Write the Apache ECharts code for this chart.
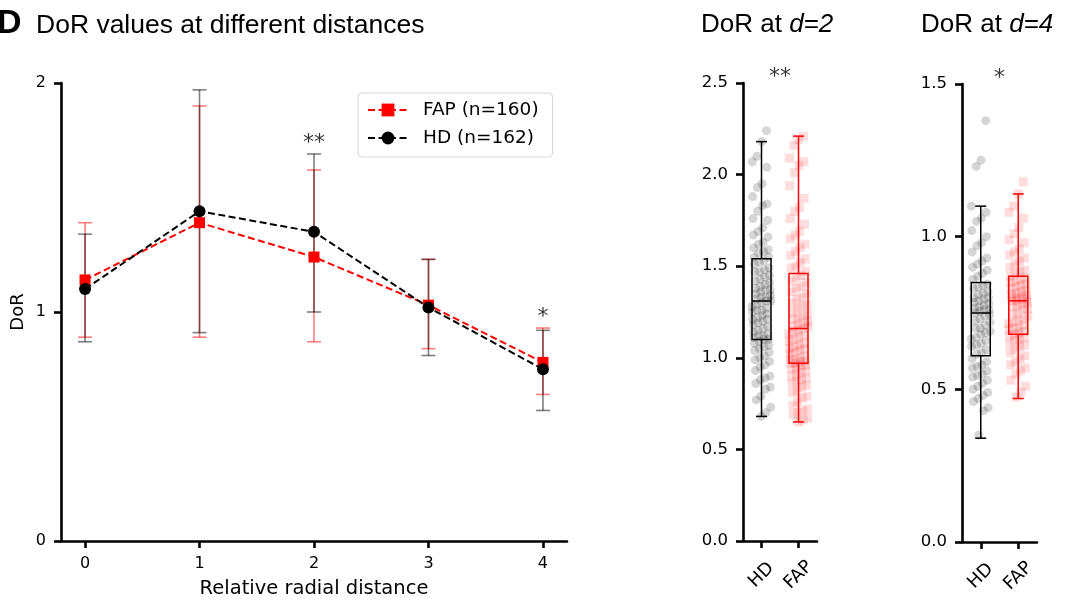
<!DOCTYPE html>
<html>
<head>
<meta charset="utf-8">
<script src="https://cdn.jsdelivr.net/npm/echarts@6/dist/echarts.min.js"></script>
<style>
  html, body { margin: 0; padding: 0; background: #fff; }
  #chart { width: 1067px; height: 601px; }
</style>
</head>
<body>
<div id="chart"></div>
<script>
// ---- mean DoR with spread, per relative radial distance ----
const distances = [0, 1, 2, 3, 4];
const distanceTicks = [0, 1, 2, 3, 4];
const fapMean = [1.14, 1.39, 1.24, 1.03, 0.78];
const fapLow  = [0.89, 0.89, 0.87, 0.84, 0.64];
const fapHigh = [1.39, 1.90, 1.62, 1.23, 0.93];
const hdMean  = [1.10, 1.44, 1.35, 1.02, 0.75];
const hdLow   = [0.87, 0.91, 1.00, 0.81, 0.57];
const hdHigh  = [1.34, 1.97, 1.69, 1.23, 0.92];
const fapName = 'FAP (n=160)';
const hdName = 'HD (n=162)';

// ---- box plot groups ----
const groups = ['HD', 'FAP'];
// [lower whisker, Q1, median, Q3, upper whisker]
const hd2Box  = [0.68, 1.10, 1.31, 1.54, 2.18];
const fap2Box = [0.65, 0.97, 1.16, 1.46, 2.21];
const hd4Box  = [0.34, 0.61, 0.75, 0.85, 1.10];
const fap4Box = [0.47, 0.68, 0.79, 0.87, 1.14];

// individual cell values at d=2
const hd2Points = [2.24, 2.18, 2.10, 2.07, 2.04, 1.95, 1.93, 1.88, 1.84, 1.83, 1.80, 1.76, 1.75, 1.71, 1.69, 1.67, 1.66, 1.63, 1.62, 1.60, 1.59, 1.58, 1.57, 1.55, 1.55,
  1.53, 1.52, 1.51, 1.49, 1.48, 1.47, 1.47, 1.45, 1.44, 1.43, 1.42, 1.41, 1.40, 1.39, 1.38, 1.37, 1.37, 1.36, 1.35, 1.34, 1.33, 1.33, 1.32, 1.31, 1.31,
  1.30, 1.29, 1.28, 1.27, 1.26, 1.26, 1.25, 1.24, 1.23, 1.22, 1.21, 1.21, 1.20, 1.19, 1.18, 1.17, 1.16, 1.15, 1.14, 1.13, 1.12, 1.12, 1.11, 1.10, 1.10,
  1.09, 1.08, 1.07, 1.06, 1.05, 1.04, 1.03, 1.01, 1.00, 0.99, 0.98, 0.96, 0.95, 0.93, 0.90, 0.89, 0.88, 0.86, 0.84, 0.83, 0.79, 0.77, 0.73, 0.70, 0.68];
const fap2Points = [2.21, 2.19, 2.16, 2.09, 2.07, 2.05, 2.01, 1.94, 1.87, 1.82, 1.80, 1.76, 1.73, 1.69, 1.67, 1.65, 1.62, 1.60, 1.58, 1.56, 1.54, 1.52, 1.50, 1.49, 1.47,
  1.45, 1.44, 1.42, 1.41, 1.39, 1.38, 1.36, 1.35, 1.33, 1.32, 1.30, 1.29, 1.28, 1.27, 1.25, 1.24, 1.23, 1.22, 1.21, 1.20, 1.19, 1.18, 1.17, 1.17, 1.16,
  1.15, 1.14, 1.13, 1.12, 1.11, 1.10, 1.09, 1.08, 1.07, 1.06, 1.05, 1.05, 1.04, 1.03, 1.02, 1.01, 1.00, 0.99, 0.99, 0.98, 0.98, 0.97, 0.97, 0.96, 0.96,
  0.95, 0.94, 0.93, 0.92, 0.91, 0.90, 0.89, 0.88, 0.87, 0.86, 0.85, 0.84, 0.82, 0.81, 0.79, 0.78, 0.76, 0.74, 0.72, 0.71, 0.70, 0.69, 0.67, 0.66, 0.65];

// individual cell values at d=4
const hd4Points = [1.38, 1.25, 1.23, 1.10, 1.08, 1.06, 1.05, 1.02, 1.00, 0.98, 0.97, 0.95, 0.93, 0.92, 0.91, 0.90, 0.89, 0.88, 0.87, 0.86,
  0.845, 0.84, 0.835, 0.83, 0.82, 0.815, 0.81, 0.80, 0.80, 0.795, 0.79, 0.785, 0.78, 0.775, 0.77, 0.765, 0.76, 0.76, 0.755, 0.75,
  0.745, 0.74, 0.73, 0.725, 0.72, 0.71, 0.70, 0.70, 0.69, 0.685, 0.68, 0.67, 0.665, 0.66, 0.65, 0.645, 0.64, 0.63, 0.62, 0.615,
  0.60, 0.59, 0.58, 0.575, 0.57, 0.56, 0.55, 0.545, 0.54, 0.53, 0.52, 0.51, 0.50, 0.49, 0.48, 0.47, 0.46, 0.44, 0.43, 0.35];
const fap4Points = [1.18, 1.14, 1.10, 1.08, 1.06, 1.03, 1.01, 0.99, 0.98, 0.96, 0.95, 0.94, 0.93, 0.92, 0.91, 0.90, 0.89, 0.885, 0.88, 0.87,
  0.865, 0.86, 0.855, 0.85, 0.845, 0.84, 0.835, 0.83, 0.825, 0.82, 0.815, 0.81, 0.81, 0.805, 0.80, 0.80, 0.795, 0.795, 0.79, 0.79,
  0.785, 0.78, 0.775, 0.77, 0.765, 0.76, 0.75, 0.745, 0.74, 0.73, 0.725, 0.72, 0.715, 0.71, 0.70, 0.70, 0.695, 0.69, 0.685, 0.68,
  0.675, 0.67, 0.665, 0.66, 0.65, 0.645, 0.64, 0.63, 0.62, 0.61, 0.60, 0.59, 0.58, 0.57, 0.56, 0.55, 0.53, 0.51, 0.49, 0.475];

// significance marks
const sigMain = [{ x: 2, y: 1.735, text: '**' }, { x: 4, y: 0.975, text: '*' }];
const sigD2 = { x: 0.5, y: 2.53, text: '**' };
const sigD4 = { x: 0.5, y: 1.52, text: '*' };

const SANS = 'DejaVu Sans';
const TITLE_FONT = 'Liberation Sans';
const RED = '#ff0000';
const BLACK = '#000000';

// spread points horizontally around the group centre
function jitter(i) {
  return (((i + 1) * 0.7548776662) % 1 - 0.5) * 0.52;
}

function errorBarSeries(low, high, color, z) {
  return {
    type: 'custom',
    xAxisIndex: 0, yAxisIndex: 0,
    z: z, silent: true,
    data: distances.map((d, i) => [d, low[i], high[i]]),
    encode: { x: 0, y: [1, 2] },
    renderItem: function (params, api) {
      const x = api.value(0);
      const top = api.coord([x, api.value(2)]);
      const bot = api.coord([x, api.value(1)]);
      const hw = 7;
      const style = { stroke: color, lineWidth: 1.6, fill: null };
      return {
        type: 'group',
        children: [
          { type: 'line', shape: { x1: top[0], y1: top[1], x2: bot[0], y2: bot[1] }, style: style },
          { type: 'line', shape: { x1: top[0] - hw, y1: top[1], x2: top[0] + hw, y2: top[1] }, style: style },
          { type: 'line', shape: { x1: bot[0] - hw, y1: bot[1], x2: bot[0] + hw, y2: bot[1] }, style: style }
        ]
      };
    }
  };
}

function boxSeries(axisIdx, boxes) {
  const colors = [BLACK, RED];
  return {
    type: 'custom',
    xAxisIndex: axisIdx, yAxisIndex: axisIdx,
    z: 5, silent: true,
    data: boxes.map((b, g) => [g].concat(b)),
    encode: { x: 0, y: [1, 2, 3, 4, 5] },
    renderItem: function (params, api) {
      const g = api.value(0);
      const c = colors[params.dataIndex];
      const pMin = api.coord([g, api.value(1)]);
      const pQ1 = api.coord([g, api.value(2)]);
      const pMed = api.coord([g, api.value(3)]);
      const pQ3 = api.coord([g, api.value(4)]);
      const pMax = api.coord([g, api.value(5)]);
      const hw = 9.5, cw = 5.5, cx = pMed[0];
      const style = { stroke: c, lineWidth: 1.5, fill: null };
      return {
        type: 'group',
        children: [
          { type: 'line', shape: { x1: cx, y1: pMax[1], x2: cx, y2: pQ3[1] }, style: style },
          { type: 'line', shape: { x1: cx, y1: pQ1[1], x2: cx, y2: pMin[1] }, style: style },
          { type: 'line', shape: { x1: cx - cw, y1: pMax[1], x2: cx + cw, y2: pMax[1] }, style: style },
          { type: 'line', shape: { x1: cx - cw, y1: pMin[1], x2: cx + cw, y2: pMin[1] }, style: style },
          { type: 'rect', shape: { x: cx - hw, y: pQ3[1], width: 2 * hw, height: pQ1[1] - pQ3[1] }, style: style },
          { type: 'line', shape: { x1: cx - hw, y1: pMed[1], x2: cx + hw, y2: pMed[1] }, style: style }
        ]
      };
    }
  };
}

function pointSeries(axisIdx, g, values, symbol, color) {
  return {
    type: 'scatter',
    xAxisIndex: axisIdx, yAxisIndex: axisIdx,
    z: 2, silent: true, clip: false,
    symbol: symbol, symbolSize: 9,
    itemStyle: { color: color, borderWidth: 0 },
    data: values.map((v, i) => [g + jitter(i), v])
  };
}

function sigSeries(axisIdx, marks) {
  return {
    type: 'scatter',
    xAxisIndex: axisIdx, yAxisIndex: axisIdx,
    z: 6, silent: true, clip: false,
    symbolSize: 0,
    data: marks.map(m => ({ value: [m.x, m.y], label: { formatter: m.text } })),
    label: { show: true, position: 'inside', color: '#000', fontFamily: SANS, fontSize: 22 }
  };
}

const axisLine = { show: true, onZero: false, lineStyle: { color: '#000', width: 2.6 } };
const axisTick = { show: true, inside: false, length: 7, lineStyle: { color: '#000', width: 2.6 } };
const tickLabel = { color: '#000', fontFamily: SANS, fontSize: 16 };

function boxXAxis(grid) {
  return {
    type: 'value', gridIndex: grid, min: -0.5, max: 1.5,
    axisLine: axisLine,
    axisTick: Object.assign({ customValues: [0, 1] }, axisTick),
    axisLabel: Object.assign({}, tickLabel, {
      customValues: [0, 1], rotate: 45, fontSize: 18, margin: 34,
      align: 'center', verticalAlign: 'middle',
      formatter: v => groups[Math.round(v)]
    }),
    splitLine: { show: false }
  };
}

function boxYAxis(grid, max) {
  return {
    type: 'value', gridIndex: grid, min: 0, max: max, interval: 0.5,
    axisLine: axisLine, axisTick: axisTick,
    axisLabel: Object.assign({}, tickLabel, { fontSize: 16.5, margin: 15, formatter: v => v.toFixed(1) }),
    splitLine: { show: false }
  };
}

const titleRich = {
  n: { fontFamily: TITLE_FONT, fontSize: 26, fontWeight: 'normal', color: '#000' },
  i: { fontFamily: TITLE_FONT, fontSize: 26, fontWeight: 'normal', fontStyle: 'italic', color: '#000' }
};

const chart = echarts.init(document.getElementById('chart'), null, { renderer: 'canvas' });

chart.setOption({
  animation: false,
  backgroundColor: '#fff',
  title: [
    { text: 'D', left: -3, top: 7, padding: 0, textStyle: { fontFamily: TITLE_FONT, fontSize: 34, fontWeight: 'bold', color: '#000' } },
    { text: 'DoR values at different distances', left: 36, top: 12, padding: 0, textStyle: { fontFamily: TITLE_FONT, fontSize: 26.5, fontWeight: 'normal', color: '#000' } },
    { text: '{n|DoR at }{i|d=2}', left: 701, top: 12, padding: 0, textStyle: { fontWeight: 'normal', rich: titleRich } },
    { text: '{n|DoR at }{i|d=4}', left: 921, top: 12, padding: 0, textStyle: { fontWeight: 'normal', rich: titleRich } }
  ],
  legend: {
    data: [fapName, hdName],
    orient: 'vertical',
    left: 358, top: 93,
    padding: [7, 14, 9, 9],
    itemGap: 8,
    itemWidth: 40, itemHeight: 16,
    backgroundColor: '#fff',
    borderColor: '#d6d6d6', borderWidth: 1, borderRadius: 4,
    textStyle: { fontFamily: SANS, fontSize: 18.5, color: '#000', lineHeight: 20, padding: [0, 0, 0, 10] },
    selectedMode: false
  },
  grid: [
    { left: 61, top: 83, width: 506, height: 458, outerBoundsMode: 'none' },
    { left: 743, top: 83, width: 74, height: 458, outerBoundsMode: 'none' },
    { left: 962, top: 84, width: 75, height: 458, outerBoundsMode: 'none' }
  ],
  xAxis: [
    {
      type: 'value', gridIndex: 0, min: -0.21, max: 4.21,
      name: 'Relative radial distance', nameLocation: 'middle', nameGap: 38,
      nameTextStyle: { fontFamily: SANS, fontSize: 19.5, color: '#000' },
      axisLine: axisLine,
      axisTick: Object.assign({ customValues: distanceTicks }, axisTick),
      axisLabel: Object.assign({ customValues: distanceTicks, margin: 15 }, tickLabel),
      splitLine: { show: false }
    },
    boxXAxis(1),
    boxXAxis(2)
  ],
  yAxis: [
    {
      type: 'value', gridIndex: 0, min: 0, max: 2, interval: 1,
      name: 'DoR', nameLocation: 'middle', nameGap: 34, nameRotate: 90,
      nameTextStyle: { fontFamily: SANS, fontSize: 18, color: '#000' },
      axisLine: axisLine, axisTick: axisTick,
      axisLabel: Object.assign({ margin: 15 }, tickLabel),
      splitLine: { show: false }
    },
    boxYAxis(1, 2.5),
    boxYAxis(2, 1.5)
  ],
  series: [
    errorBarSeries(fapLow, fapHigh, 'rgba(255,0,0,0.5)', 2),
    errorBarSeries(hdLow, hdHigh, 'rgba(0,0,0,0.5)', 2),
    {
      name: fapName, type: 'line', xAxisIndex: 0, yAxisIndex: 0, z: 3,
      data: distances.map((d, i) => [d, fapMean[i]]),
      symbol: 'rect', symbolSize: 11, showSymbol: true,
      itemStyle: { color: RED },
      lineStyle: { color: RED, width: 2, type: [7, 3.5] },
      silent: true
    },
    {
      name: hdName, type: 'line', xAxisIndex: 0, yAxisIndex: 0, z: 4,
      data: distances.map((d, i) => [d, hdMean[i]]),
      symbol: 'circle', symbolSize: 12, showSymbol: true,
      itemStyle: { color: BLACK },
      lineStyle: { color: BLACK, width: 2, type: [7, 3.5] },
      silent: true
    },
    sigSeries(0, sigMain),

    pointSeries(1, 0, hd2Points, 'circle', 'rgba(0,0,0,0.2)'),
    pointSeries(1, 1, fap2Points, 'rect', 'rgba(255,0,0,0.17)'),
    boxSeries(1, [hd2Box, fap2Box]),
    sigSeries(1, [sigD2]),

    pointSeries(2, 0, hd4Points, 'circle', 'rgba(0,0,0,0.2)'),
    pointSeries(2, 1, fap4Points, 'rect', 'rgba(255,0,0,0.17)'),
    boxSeries(2, [hd4Box, fap4Box]),
    sigSeries(2, [sigD4])
  ]
});
</script>
</body>
</html>
